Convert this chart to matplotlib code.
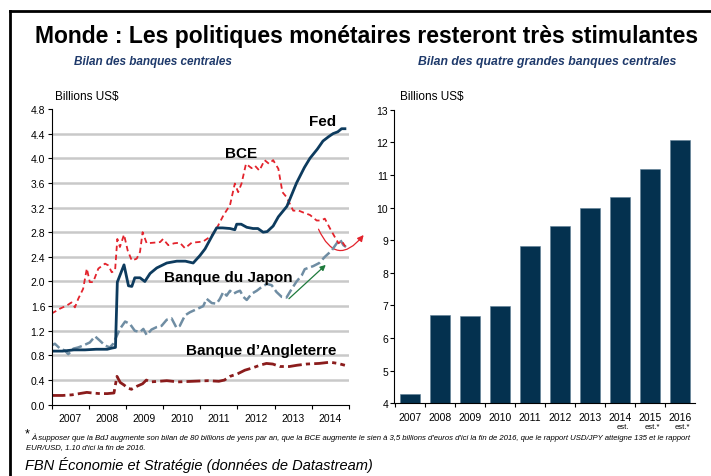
import matplotlib
matplotlib.use("Agg")
import matplotlib.pyplot as plt
from matplotlib.lines import Line2D
from matplotlib.patches import FancyArrowPatch
import matplotlib.font_manager as fm

# --- Bilan des banques centrales (billions US$) ---
fed_t = [2007.0, 2007.3, 2007.6, 2007.9, 2008.2, 2008.5, 2008.63, 2008.72, 2008.77, 2008.95,
         2009.07, 2009.16, 2009.24, 2009.38, 2009.51, 2009.65, 2009.83, 2010.1, 2010.37, 2010.6,
         2010.81, 2010.99, 2011.13, 2011.3, 2011.44, 2011.6, 2011.8, 2011.93, 2011.98, 2012.1,
         2012.25, 2012.42, 2012.55, 2012.69, 2012.8, 2012.96, 2013.1, 2013.33, 2013.59, 2013.8,
         2013.95, 2014.15, 2014.3, 2014.45, 2014.57, 2014.7, 2014.8, 2014.89]
fed_v = [0.87, 0.87, 0.89, 0.89, 0.90, 0.90, 0.92, 0.93, 1.99, 2.27,
         1.93, 1.92, 2.06, 2.06, 2.00, 2.13, 2.22, 2.30, 2.33, 2.33,
         2.30, 2.42, 2.53, 2.72, 2.87, 2.87, 2.86, 2.84, 2.93, 2.93,
         2.88, 2.86, 2.86, 2.80, 2.81, 2.90, 3.05, 3.22, 3.60, 3.85,
         4.00, 4.15, 4.28, 4.35, 4.40, 4.43, 4.48, 4.48]

bce_t = [2007.0, 2007.12, 2007.23, 2007.41, 2007.54, 2007.63, 2007.72, 2007.85, 2007.95, 2008.03,
         2008.12, 2008.26, 2008.44, 2008.53, 2008.62, 2008.71, 2008.77, 2008.84, 2008.95, 2009.05,
         2009.16, 2009.29, 2009.38, 2009.45, 2009.56, 2009.75, 2009.92, 2010.0, 2010.14, 2010.3,
         2010.45, 2010.59, 2010.77, 2010.95, 2011.08, 2011.2, 2011.31, 2011.44, 2011.62, 2011.8,
         2011.93, 2012.02, 2012.11, 2012.23, 2012.38, 2012.47, 2012.59, 2012.73, 2012.85, 2012.96,
         2013.1, 2013.21, 2013.32, 2013.5, 2013.65, 2013.77, 2013.95, 2014.13, 2014.25, 2014.35,
         2014.49, 2014.62, 2014.72, 2014.8, 2014.9]
bce_v = [1.48, 1.52, 1.56, 1.61, 1.66, 1.58, 1.72, 1.88, 2.21, 1.99,
         1.99, 2.21, 2.29, 2.26, 2.15, 2.18, 2.69, 2.56, 2.76, 2.50,
         2.34, 2.37, 2.48, 2.80, 2.62, 2.63, 2.64, 2.69, 2.59, 2.62,
         2.63, 2.54, 2.63, 2.64, 2.65, 2.70, 2.75, 2.86, 3.07, 3.24,
         3.59, 3.45, 3.59, 3.91, 3.84, 3.88, 3.80, 3.97, 3.91, 3.97,
         3.83, 3.45, 3.37, 3.15, 3.15, 3.12, 3.08, 2.99, 2.99, 3.02,
         2.86, 2.72, 2.62, 2.66, 2.57]

boj_t = [2007.0, 2007.09, 2007.23, 2007.36, 2007.45, 2007.59, 2007.72, 2007.85, 2008.03, 2008.17,
         2008.3, 2008.44, 2008.57, 2008.66, 2008.84, 2008.98, 2009.11, 2009.24, 2009.38, 2009.47,
         2009.56, 2009.69, 2009.83, 2009.96, 2010.1, 2010.23, 2010.36, 2010.45, 2010.59, 2010.72,
         2010.9, 2011.08, 2011.17, 2011.31, 2011.44, 2011.53, 2011.62, 2011.71, 2011.8, 2011.89,
         2011.98, 2012.07, 2012.16, 2012.25, 2012.38, 2012.52, 2012.65, 2012.79, 2012.92, 2013.05,
         2013.19, 2013.32, 2013.46, 2013.59, 2013.73, 2013.81, 2013.9, 2014.04, 2014.2, 2014.35,
         2014.53, 2014.67, 2014.76, 2014.85, 2014.92]
boj_v = [0.96, 0.99, 0.91, 0.88, 0.82, 0.91, 0.93, 0.96, 1.01, 1.11,
         1.04, 0.96, 0.93, 0.99, 1.23, 1.35, 1.31, 1.20, 1.18, 1.23,
         1.13, 1.22, 1.26, 1.28, 1.38, 1.40, 1.25, 1.28, 1.45, 1.50,
         1.55, 1.60, 1.72, 1.65, 1.64, 1.72, 1.83, 1.77, 1.85, 1.80,
         1.83, 1.85, 1.75, 1.70, 1.80, 1.85, 1.91, 1.96, 1.94, 1.83,
         1.75, 1.74, 1.88, 2.00, 2.10, 2.20, 2.22, 2.25, 2.30, 2.40,
         2.50, 2.62, 2.68, 2.59, 2.56]

boe_t = [2007.0, 2007.3, 2007.55, 2007.75, 2007.95, 2008.1, 2008.3, 2008.5, 2008.68, 2008.76,
         2008.85, 2008.95, 2009.05, 2009.15, 2009.3, 2009.45, 2009.55, 2009.65, 2009.9, 2010.1,
         2010.4, 2010.8, 2011.2, 2011.5, 2011.65, 2011.8, 2012.0, 2012.2, 2012.42, 2012.6,
         2012.78, 2012.95, 2013.14, 2013.4, 2013.6, 2013.86, 2014.2, 2014.49, 2014.7, 2014.89]
boe_v = [0.15, 0.15, 0.16, 0.18, 0.20, 0.19, 0.18, 0.18, 0.19, 0.46,
         0.36, 0.32, 0.27, 0.25, 0.30, 0.34, 0.40, 0.37, 0.38, 0.39,
         0.37, 0.38, 0.39, 0.38, 0.40, 0.46, 0.50, 0.56, 0.60, 0.64,
         0.67, 0.66, 0.62, 0.62, 0.64, 0.66, 0.67, 0.69, 0.67, 0.64]

line_years = list(range(2007, 2015))

# --- Bilan des quatre grandes banques centrales ---
bar_years = ["2007", "2008", "2009", "2010", "2011", "2012", "2013", "2014", "2015", "2016"]
bar_notes = ["", "", "", "", "", "", "", "est.", "est.*", "est.*"]
bar_values = [4.29, 6.72, 6.67, 6.99, 8.82, 9.43, 9.99, 10.31, 11.17, 12.06]

NAVY = "#0D3B5E"
BAR = "#04314F"
SUB = "#1F3A6B"

installed = {f.name for f in fm.fontManager.ttflist}
NARROW = ["Liberation Sans Narrow", "Liberation Sans"] if "Liberation Sans Narrow" in installed else ["Liberation Sans"]


def main():
    plt.rcParams["font.family"] = ["Liberation Sans", "DejaVu Sans"]
    fig = plt.figure(figsize=(7.11, 4.77), dpi=100)

    # cadre
    fig.add_artist(Line2D([10 / 711, 10 / 711], [0, 1 - 12 / 477], color="black", lw=2,
                          transform=fig.transFigure))
    fig.add_artist(Line2D([10 / 711, 1], [1 - 12 / 477, 1 - 12 / 477], color="black", lw=2,
                          transform=fig.transFigure))

    fig.text(367 / 711, 1 - 36 / 477, "Monde : Les politiques monétaires resteront très stimulantes",
             ha="center", va="center", fontsize=16.5, fontweight="bold")
    fig.text(153 / 711, 1 - 62 / 477, "Bilan des banques centrales", ha="center", va="center",
             fontsize=8.5, fontweight="bold", style="italic", color=SUB, family=NARROW)
    fig.text(547 / 711, 1 - 62 / 477, "Bilan des quatre grandes banques centrales", ha="center",
             va="center", fontsize=8.8, fontweight="bold", style="italic", color=SUB, family=NARROW)

    # ---------- graphique de gauche ----------
    ax = fig.add_axes([51.5 / 711, 1 - 405.7 / 477, 297.5 / 711, 295.7 / 477])
    ax.set_xlim(2007, 2015)
    ax.set_ylim(0, 4.8)
    yt = [i * 0.4 for i in range(13)]
    ax.set_yticks(yt)
    ax.set_yticklabels([f"{v:.1f}" for v in yt], family=NARROW, fontsize=7.5)
    for v in yt[1:-1]:
        ax.axhline(v, color="#C9C9C9", lw=1.8, zorder=0)
    ax.set_xticks(line_years + [2015])
    ax.set_xticklabels([])
    ax.set_xticks([y + 0.5 for y in line_years], minor=True)
    ax.set_xticklabels([str(y) for y in line_years], minor=True, family=NARROW, fontsize=7.5)
    ax.tick_params(axis="x", which="minor", length=0, pad=6)
    ax.tick_params(axis="x", which="major", length=3, direction="out")
    ax.tick_params(axis="y", length=3, pad=1.5)
    for s in ["top", "right"]:
        ax.spines[s].set_visible(False)

    ax.plot(boe_t, boe_v, color="#8B1C1C", lw=2, ls=(0, (5, 1.5, 1.5, 1.5)))
    ax.plot(boj_t, boj_v, color="#6F8DA3", lw=1.8, ls=(0, (4, 1.5)))
    ax.plot(bce_t, bce_v, color="#E3232C", lw=1.3, ls=(0, (3, 2)))
    ax.plot(fed_t, fed_v, color=NAVY, lw=2)

    lab = dict(fontsize=11, fontweight="bold", ha="center", va="center")
    ax.text(2014.3, 4.60, "Fed", **lab)
    ax.text(2012.1, 4.09, "BCE", **lab)
    ax.text(2011.75, 2.07, "Banque du Japon", **lab)
    ax.text(2012.65, 0.89, "Banque d\u2019Angleterre", **lab)

    ax.annotate("", xy=(2014.43, 2.30), xytext=(2013.33, 1.69),
                arrowprops=dict(arrowstyle="-|>", color="#1E7A3C", lw=0.9,
                                mutation_scale=8))
    arc = FancyArrowPatch((2014.15, 2.89), (2015.44, 2.79), connectionstyle="arc3,rad=0.85",
                          arrowstyle="-|>", mutation_scale=9, color="#E3232C", lw=0.9,
                          clip_on=False)
    ax.add_patch(arc)

    fig.text(55 / 711, 1 - 97 / 477, "Billions US$", ha="left", va="center", fontsize=8.5)

    # ---------- graphique de droite ----------
    bx = fig.add_axes([394.3 / 711, 1 - 404.3 / 477, 300.7 / 711, 293.6 / 477])
    pos = list(range(len(bar_years)))
    bx.bar(pos, [v - 4 for v in bar_values], bottom=4, width=0.66, color=BAR,
           edgecolor="#5E7E95", linewidth=0.4)
    bx.set_xlim(-0.52, 9.5)
    bx.set_ylim(4, 13)
    bx.set_yticks(range(4, 14))
    bx.set_yticklabels([str(v) for v in range(4, 14)], family=NARROW, fontsize=7.5)
    bx.set_xticks([p + 0.5 for p in pos[:-1]] + [-0.5])
    bx.set_xticklabels([])
    bx.set_xticks(pos, minor=True)
    bx.set_xticklabels(bar_years, minor=True, family=NARROW, fontsize=7.5)
    bx.tick_params(axis="x", which="minor", length=0, pad=6)
    bx.tick_params(axis="x", which="major", length=3)
    bx.tick_params(axis="y", length=3, pad=1.5)
    for s in ["top", "right"]:
        bx.spines[s].set_visible(False)
    for p, note in zip(pos, bar_notes):
        if note:
            bx.text(p + 0.08, -0.08, note, transform=bx.get_xaxis_transform(), ha="center",
                    va="center", fontsize=5.5, family=NARROW)

    fig.text(400 / 711, 1 - 97 / 477, "Billions US$", ha="left", va="center", fontsize=8.5)

    # ---------- notes ----------
    fig.text(25 / 711, 1 - 434 / 477, "*", fontsize=9, ha="left", va="center")
    fig.text(31 / 711, 1 - 438 / 477,
             "À supposer que la BdJ augmente son bilan de 80 billions de yens par an, que la BCE "
             "augmente le sien à 3,5 billions d'euros d'ici la fin de 2016, que le rapport USD/JPY "
             "atteigne 135 et le rapport",
             fontsize=5.6, style="italic", ha="left", va="center", family=NARROW)
    fig.text(26 / 711, 1 - 448 / 477, "EUR/USD, 1.10 d'ici la fin de 2016.",
             fontsize=5.6, style="italic", ha="left", va="center", family=NARROW)
    fig.text(25 / 711, 1 - 465 / 477, "FBN Économie et Stratégie (données de Datastream)",
             fontsize=10.5, style="italic", ha="left", va="center")

    fig.savefig("out.png", dpi=100)


if __name__ == "__main__":
    main()
